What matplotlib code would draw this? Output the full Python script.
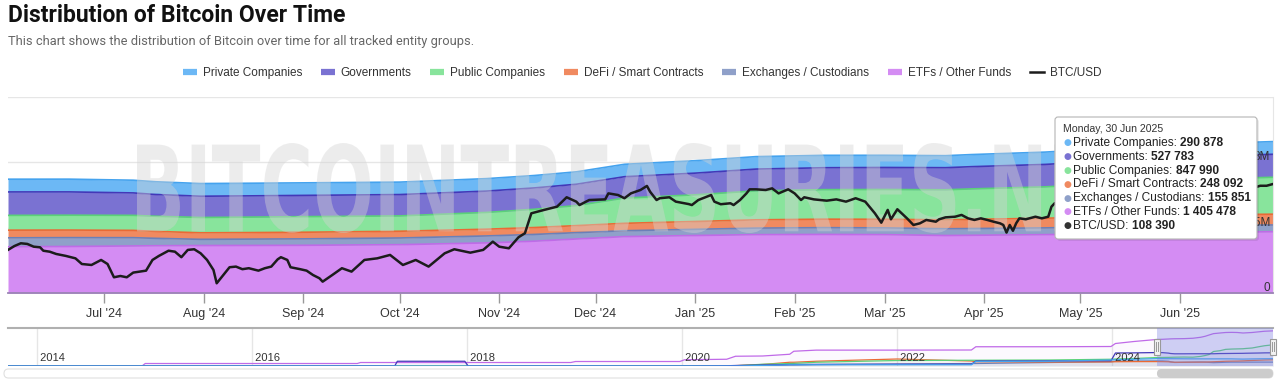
import numpy as np
import pandas as pd
import matplotlib
matplotlib.use("Agg")
import matplotlib.pyplot as plt
import matplotlib.dates as mdates
from matplotlib.lines import Line2D
from matplotlib.patches import FancyBboxPatch, PathPatch, Rectangle
from matplotlib.textpath import TextPath
from matplotlib.font_manager import FontProperties
from matplotlib.transforms import Affine2D, IdentityTransform, blended_transform_factory

# ------------------------------
# Data (BTC held, in thousands)
# ------------------------------
alloc_dates = ["2024-06-01", "2024-06-20", "2024-07-10", "2024-07-17", "2024-07-31",
               "2024-08-15", "2024-09-01", "2024-10-01", "2024-10-28", "2024-11-12",
               "2024-11-25", "2024-12-10", "2025-01-01", "2025-01-20", "2025-02-10",
               "2025-03-01", "2025-03-20", "2025-03-28", "2025-04-20", "2025-05-15",
               "2025-06-01", "2025-06-30"]
etfs = [1062, 1068, 1080, 1085, 1090, 1092, 1095, 1110, 1150, 1190, 1240, 1295,
        1320, 1340, 1345, 1340, 1320, 1325, 1340, 1370, 1390, 1405.478]
exchanges = [205, 203, 190, 170, 142, 145, 148, 153, 160, 155, 145, 135,
             142, 150, 155, 155, 155, 155, 155, 156, 156, 155.851]
defi = [176, 174, 168, 160, 150, 150, 152, 155, 155, 158, 162, 170,
        180, 190, 195, 198, 205, 210, 222, 232, 240, 248.092]
public = [339, 341, 345, 347, 352, 355, 358, 352, 385, 420, 460, 580,
          612, 665, 678, 684, 690, 700, 720, 775, 810, 847.990]
governments = [538, 535, 515, 500, 488, 488, 488, 490, 490, 490, 490, 490,
               498, 500, 503, 505, 507, 510, 515, 520, 525, 527.783]
private = [293, 293, 292, 292, 291, 290, 288, 286, 286, 285, 285, 285,
           286, 286, 285, 280, 276, 278, 283, 287, 289, 290.878]

# older history, only seen in the navigator
hist_dates = ["2013-09-26", "2014-12-25", "2015-01-05", "2016-12-25", "2017-01-05",
              "2017-05-01", "2017-05-10", "2017-12-25", "2018-01-05", "2018-12-20",
              "2019-01-05", "2019-12-25", "2020-01-10", "2020-06-01", "2020-07-01",
              "2020-10-01", "2021-01-01", "2021-01-15", "2021-04-01", "2022-01-01",
              "2022-09-10", "2022-09-25", "2023-06-01", "2023-12-28", "2024-01-12",
              "2024-03-15"]
hist_etfs = [0, 0, 100, 100, 140, 140, 140, 140, 140, 140, 180, 180, 250, 270, 390,
             400, 470, 590, 635, 635, 640, 770, 770, 780, 900, 980]
hist_exchanges = [0, 0, 0, 0, 0, 0, 0, 0, 0, 0, 0, 0, 0, 0, 5, 20, 40, 40, 55, 80,
                  100, 100, 140, 170, 190, 200]
hist_defi = [0, 0, 0, 0, 0, 0, 0, 0, 0, 0, 0, 0, 0, 5, 15, 60, 150, 150, 190, 280,
             200, 170, 160, 165, 170, 175]
hist_public = [0, 0, 0, 0, 0, 0, 0, 0, 0, 0, 0, 0, 0, 5, 10, 70, 100, 105, 150, 220,
               230, 230, 240, 270, 280, 300]
hist_governments = [0, 0, 0, 0, 0, 0, 190, 190, 0, 0, 0, 0, 0, 10, 20, 40, 60, 60,
                    65, 70, 70, 200, 205, 210, 520, 525]
hist_private = [0, 0, 0, 0, 0, 0, 0, 0, 0, 0, 0, 0, 0, 0, 0, 20, 50, 50, 50, 50, 50,
                180, 190, 240, 250, 270]

btc_dates = [
    "2024-06-01", "2024-06-03", "2024-06-05", "2024-06-07", "2024-06-09", "2024-06-11",
    "2024-06-12", "2024-06-14", "2024-06-16", "2024-06-19", "2024-06-22", "2024-06-24",
    "2024-06-27", "2024-06-30",
    "2024-07-02", "2024-07-04", "2024-07-06", "2024-07-08", "2024-07-10", "2024-07-12",
    "2024-07-14", "2024-07-16", "2024-07-18", "2024-07-21", "2024-07-23", "2024-07-25",
    "2024-07-27", "2024-07-29", "2024-07-31",
    "2024-08-02", "2024-08-04", "2024-08-05", "2024-08-06", "2024-08-09", "2024-08-11",
    "2024-08-13", "2024-08-15", "2024-08-18", "2024-08-20", "2024-08-22", "2024-08-24",
    "2024-08-25", "2024-08-27", "2024-08-28", "2024-08-31",
    "2024-09-02", "2024-09-04", "2024-09-06", "2024-09-07", "2024-09-10", "2024-09-13",
    "2024-09-16", "2024-09-20", "2024-09-24", "2024-09-28",
    "2024-10-02", "2024-10-06", "2024-10-10", "2024-10-15", "2024-10-18", "2024-10-23",
    "2024-10-27", "2024-10-30",
    "2024-11-01", "2024-11-04", "2024-11-07", "2024-11-09", "2024-11-11", "2024-11-15",
    "2024-11-19", "2024-11-22", "2024-11-25", "2024-11-26", "2024-11-29",
    "2024-12-04", "2024-12-05", "2024-12-08", "2024-12-10", "2024-12-12", "2024-12-15",
    "2024-12-17", "2024-12-18", "2024-12-20", "2024-12-21", "2024-12-24", "2024-12-26",
    "2024-12-30", "2024-12-31",
    "2025-01-02", "2025-01-06", "2025-01-07", "2025-01-09", "2025-01-12", "2025-01-13",
    "2025-01-15", "2025-01-17", "2025-01-18", "2025-01-20", "2025-01-23", "2025-01-25",
    "2025-01-27", "2025-01-30",
    "2025-02-01", "2025-02-03", "2025-02-04", "2025-02-07", "2025-02-11", "2025-02-14",
    "2025-02-17", "2025-02-20", "2025-02-23", "2025-02-26", "2025-02-28",
    "2025-03-02", "2025-03-03", "2025-03-05", "2025-03-08", "2025-03-10", "2025-03-12",
    "2025-03-14", "2025-03-17", "2025-03-18", "2025-03-20", "2025-03-23", "2025-03-25",
    "2025-03-27", "2025-03-29", "2025-03-31",
    "2025-04-02", "2025-04-04", "2025-04-06", "2025-04-07", "2025-04-08", "2025-04-09",
    "2025-04-10", "2025-04-11", "2025-04-12", "2025-04-14", "2025-04-17", "2025-04-19",
    "2025-04-21", "2025-04-22", "2025-04-23", "2025-04-27",
    "2025-05-01", "2025-05-04", "2025-05-08", "2025-05-10", "2025-05-14", "2025-05-17",
    "2025-05-21", "2025-05-22", "2025-05-26", "2025-05-30",
    "2025-06-02", "2025-06-05", "2025-06-09", "2025-06-11", "2025-06-15", "2025-06-18",
    "2025-06-22", "2025-06-24", "2025-06-26", "2025-06-28", "2025-06-30"]
btc_usd_k = [
    67.7, 70.1, 71.8, 71.4, 69.7, 69.3, 67.2, 66.6, 65.2, 64.0, 62.5, 59.0, 58.4, 61.5,
    59.0, 50.8, 51.6, 50.8, 53.7, 54.3, 54.9, 61.5, 64.0, 67.2, 66.6, 63.2, 67.7, 68.1, 65.6,
    61.5, 55.3, 47.1, 49.6, 57.0, 57.4, 55.8, 56.4, 54.9, 56.4, 57.4, 61.9, 63.2, 61.5, 57.0, 55.8,
    54.9, 52.2, 50.2, 48.1, 52.2, 56.4, 54.3, 61.5, 62.5, 64.6,
    58.4, 61.5, 57.4, 65.6, 68.1, 66.0, 67.7, 72.8,
    69.7, 68.7, 75.5, 78.0, 90.3, 92.4, 94.4, 100.2, 97.5, 95.4, 98.5,
    98.9, 102.6, 101.6, 99.6, 102.6, 104.7, 107.2, 103.6, 98.5, 99.6, 100.2, 97.5, 96.0, 95.4,
    98.5, 101.6, 97.5, 95.9, 96.5, 95.4, 98.5, 102.6, 105.1, 105.1, 104.7, 105.7, 102.6, 105.1,
    102.6, 98.5, 100.2, 98.9, 98.1, 98.9, 97.5, 99.6, 97.5, 90.3, 84.5,
    92.4, 86.6, 92.8, 87.2, 83.1, 84.1, 86.2, 85.1, 86.6, 87.8, 88.2, 89.3, 87.2, 86.2, 87.2,
    86.2, 85.1, 84.1, 83.1, 78.4, 83.1, 79.5, 84.1, 87.2, 86.6, 88.2, 87.2, 88.2, 94.4, 96.5, 95.0,
    96.5, 95.0, 103.0, 104.6, 103.5, 103.2, 109.6, 111.7, 109.4, 104.0,
    105.7, 101.5, 110.2, 108.7, 105.5, 104.8, 101.0, 106.0, 107.3, 107.3, 108.39]

# ------------------------------
# Styles
# ------------------------------
FONT = "Liberation Sans"
names = ["ETFs / Other Funds", "Exchanges / Custodians", "DeFi / Smart Contracts",
         "Public Companies", "Governments", "Private Companies"]   # bottom -> top
fills = {"Private Companies": "#6cb8f5", "Governments": "#7a72d2",
         "Public Companies": "#88e49c", "DeFi / Smart Contracts": "#f08a60",
         "Exchanges / Custodians": "#8fa0c9", "ETFs / Other Funds": "#d48cf3"}
lines = {"Private Companies": "#45a3ee", "Governments": "#4338b8",
         "Public Companies": "#5bd279", "DeFi / Smart Contracts": "#ea6a35",
         "Exchanges / Custodians": "#6b80b8", "ETFs / Other Funds": "#c06ae8"}
BTC_COLOR = "#1c1c1c"

W, H = 1280, 390
fig = plt.figure(figsize=(W / 100, H / 100), dpi=100)
fig.patch.set_facecolor("white")


def fx(px):
    return px / W


def fy(py):
    return 1 - py / H


def fit_width(t, target_px):
    r = fig.canvas.get_renderer()
    w = t.get_window_extent(r).width
    t.set_fontsize(t.get_fontsize() * target_px / w)


# ----- Title / subtitle -----
t = fig.text(fx(8), fy(16), "Distribution of Bitcoin Over Time", fontsize=16,
             fontweight="bold", family="Roboto", color="#111111", va="center")
fit_width(t, 337)
t = fig.text(fx(8), fy(41), "This chart shows the distribution of Bitcoin over time "
             "for all tracked entity groups.", fontsize=10.5, family="Roboto",
             color="#666666", va="center")
fit_width(t, 468)

# ------------------------------
# Main stacked area chart
# ------------------------------
vals = {"ETFs / Other Funds": etfs, "Exchanges / Custodians": exchanges,
        "DeFi / Smart Contracts": defi, "Public Companies": public,
        "Governments": governments, "Private Companies": private}
dates = pd.to_datetime(alloc_dates)

ax = fig.add_axes([fx(8), fy(293), (1273 - 8) / W, (293 - 97) / H])
lower = np.zeros(len(dates))
for name in names:
    upper = lower + np.array(vals[name]) * 1000
    ax.fill_between(dates, lower, upper, color=fills[name], lw=0, zorder=1)
    ax.plot(dates, upper, color=lines[name], lw=1.2, zorder=2)
    lower = upper

# watermark
tp = TextPath((0, 0), "BITCOINTREASURIES.NET", size=100,
              prop=FontProperties(family="DejaVu Sans", weight="bold"))
bb = tp.get_extents()
wm_tr = Affine2D().translate(-bb.x0, -bb.y0).scale(1008 / bb.width, 90 / bb.height) \
    .translate(137, H - 233)
wm = PathPatch(tp, transform=wm_tr, facecolor="#d4d4d4", edgecolor="none",
               alpha=0.42, zorder=3)
ax.add_artist(wm)

# BTC price on a hidden second axis
ax2 = ax.twinx()
ax2.plot(pd.to_datetime(btc_dates), np.array(btc_usd_k) * 1000, color=BTC_COLOR,
         lw=1.8, zorder=5)
ax2.set_ylim(41100, 162100)
ax2.axis("off")

ax.set_xlim(dates[0], dates[-1])
ax.set_ylim(0, 4.5e6)
ax.set_yticks([0, 1.5e6, 3e6, 4.5e6])
ax.grid(axis="y", color="#e6e6e6", lw=1)
ax.set_axisbelow(True)
ax.tick_params(axis="y", left=False, right=False, labelleft=False, labelright=False)
for s in ["top", "left"]:
    ax.spines[s].set_visible(False)
ax.spines["right"].set_color("#e6e6e6")
ax.spines["bottom"].set_color("#9b84b5")
ax.spines["bottom"].set_linewidth(1.3)

month_ticks = pd.date_range("2024-07-01", "2025-06-01", freq="MS")
ax.set_xticks(month_ticks)
ax.set_xticklabels([d.strftime("%b '%y") for d in month_ticks])
ax.tick_params(axis="x", length=7, width=1, color="#999999", pad=4,
               labelsize=9, labelcolor="#333333")
for lbl in ax.get_xticklabels():
    lbl.set_family(FONT)

for v, lbl in [(0, "0"), (1.5e6, "1.5M"), (3e6, "3M")]:
    ax.annotate(lbl, xy=(1, v), xycoords=("axes fraction", "data"),
                xytext=(-2, 1.5), textcoords="offset points", ha="right",
                va="baseline", fontsize=8.5, family=FONT, color="#333333", zorder=6)

# ----- Legend -----
handles = [Line2D([], [], color=fills[n], lw=4.5, solid_capstyle="butt")
           for n in names[::-1]]
handles.append(Line2D([], [], color=BTC_COLOR, lw=1.8))
leg = fig.legend(handles, names[::-1] + ["BTC/USD"], loc="center",
                 bbox_to_anchor=(fx(642), fy(73)), ncol=7, frameon=False,
                 prop={"family": FONT, "size": 8.45}, handlelength=1.2,
                 handletextpad=0.5, columnspacing=1.6)
for txt in leg.get_texts():
    txt.set_color("#333333")

# ------------------------------
# Navigator
# ------------------------------
nav = fig.add_axes([fx(8), fy(366), (1273 - 8) / W, (366 - 328) / H])
hist = {"ETFs / Other Funds": hist_etfs, "Exchanges / Custodians": hist_exchanges,
        "DeFi / Smart Contracts": hist_defi, "Public Companies": hist_public,
        "Governments": hist_governments, "Private Companies": hist_private}
nav_dates = pd.to_datetime(hist_dates + alloc_dates)
for name in names:
    y = np.array(hist[name] + vals[name]) * 1000
    nav.fill_between(nav_dates, 0, y, color=lines[name], alpha=0.04, lw=0)
    nav.plot(nav_dates, y, color=lines[name], lw=0.9)
nav.set_xlim(pd.Timestamp("2013-09-26"), dates[-1])
nav.set_ylim(0, 1.52e6)
nav.set_yticks([])
nav.set_xticks([])
for s in ["left", "right", "bottom"]:
    nav.spines[s].set_visible(False)
nav.spines["top"].set_color("#b0b0b0")
nav.spines["top"].set_linewidth(1.5)
bt = blended_transform_factory(nav.transData, nav.transAxes)
for yr in range(2014, 2025, 2):
    d = pd.Timestamp(f"{yr}-01-01")
    nav.axvline(d, color="#e6e6e6", lw=1, zorder=0)
    nav.text(d, 0.2, f" {yr}", transform=bt, fontsize=8, family=FONT,
             color="#333333", va="center", ha="left", zorder=4)

nav.axvspan(dates[0], dates[-1], color="#7a80e0", alpha=0.35, lw=0, zorder=3)
for d in [dates[0], dates[-1]]:
    x0 = mdates.date2num(d)
    nav.add_patch(Rectangle((x0 - 11, 0.3), 22, 0.42, transform=bt, facecolor="#f2f2f2",
                            edgecolor="#999999", lw=0.8, zorder=5, clip_on=False))
    for off in (-4, 4):
        nav.plot([x0 + off, x0 + off], [0.4, 0.62], transform=bt, color="#999999",
                 lw=0.7, zorder=6, clip_on=False)

# scrollbar
fig.add_artist(FancyBboxPatch((4, H - 378), 1269, 9,
                              boxstyle="round,pad=0,rounding_size=4.5",
                              transform=IdentityTransform(), facecolor="white",
                              edgecolor="#e0e0e0", lw=0.8))
sx0 = nav.transData.transform((mdates.date2num(dates[0]), 0))[0]
sx1 = nav.transData.transform((mdates.date2num(dates[-1]), 0))[0]
fig.add_artist(FancyBboxPatch((sx0, H - 378), sx1 - sx0, 9,
                              boxstyle="round,pad=0,rounding_size=4.5",
                              transform=IdentityTransform(), facecolor="#cccccc",
                              edgecolor="none"))

# ------------------------------
# Tooltip for the last point
# ------------------------------
fig.add_artist(FancyBboxPatch((1057, H - 241), 202, 122,
                              boxstyle="round,pad=0,rounding_size=3",
                              transform=IdentityTransform(), facecolor="black",
                              alpha=0.08, edgecolor="none"))
fig.add_artist(FancyBboxPatch((1055, H - 239), 202, 122,
                              boxstyle="round,pad=0,rounding_size=3",
                              transform=IdentityTransform(), facecolor="white",
                              edgecolor="#b5b5b5", lw=0.8))
fig.text(fx(1063), fy(129), dates[-1].strftime("%A, %d %b %Y"), fontsize=7.6,
         family=FONT, color="#333333", va="center")

rows = [(n, fills[n], vals[n][-1] * 1000) for n in names[::-1]]
rows.append(("BTC/USD", "#333333", btc_usd_k[-1] * 1000))
renderer = fig.canvas.get_renderer()
for i, (label, col, v) in enumerate(rows):
    yy = fy(143 + i * 13.8)
    fig.text(fx(1063), yy, "\u25CF", fontsize=6.5, color=col, va="center",
             family="DejaVu Sans")
    lt = fig.text(fx(1073), yy, f"{label}: ", fontsize=8.6, family=FONT,
                  color="#222222", va="center")
    x1 = lt.get_window_extent(renderer).x1
    fig.text(x1 / W, yy, f"{v:,.0f}".replace(",", " "), fontsize=8.6, family=FONT,
             fontweight="bold", color="#222222", va="center")

fig.savefig("out.png", dpi=100)
